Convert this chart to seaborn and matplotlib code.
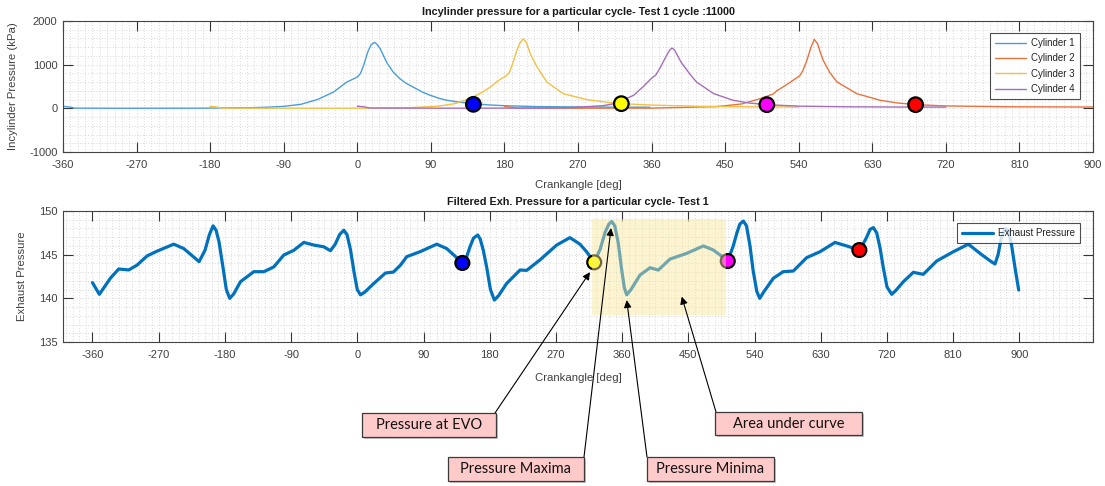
import matplotlib
matplotlib.use("Agg")
import matplotlib.pyplot as plt
from matplotlib.patches import Rectangle
from matplotlib.ticker import MultipleLocator
import seaborn as sns

# ---- in-cylinder pressure traces (crank angle [deg], pressure [kPa]) ----
cyl1_deg = [-360, -352, -345, -300, -200, -130, -110, -90, -69, -49, -29, -13, -4, 0, 4, 8, 13, 17, 21,
            24, 28, 36, 44, 52, 60, 69, 80, 89, 100, 110, 125, 142, 160, 180, 220, 280, 358]
cyl1_kpa = [46, 30, 5, 2, 3, 15, 25, 45, 92, 200, 373, 600, 680, 717, 800, 1000, 1300, 1460, 1510,
            1470, 1367, 1050, 830, 680, 570, 480, 370, 300, 230, 183, 140, 105, 80, 60, 40, 30, 25]

cyl2_deg = [180, 188, 195, 260, 360, 440, 470, 493, 509, 513, 520, 530, 536, 541, 545, 550, 555, 559,
            563, 567, 570, 578, 587, 611, 640, 660, 683, 720, 800, 900]
cyl2_kpa = [40, 25, 5, 3, 5, 40, 100, 222, 330, 400, 480, 602, 680, 740, 860, 1099, 1400, 1580,
            1480, 1250, 1099, 820, 602, 336, 183, 125, 84, 55, 35, 30]

cyl3_deg = [-180, -172, -165, -100, 0, 60, 100, 120, 133, 143, 153, 163, 170, 176, 182, 186, 190, 195,
            199, 203, 207, 212, 220, 232, 252, 281, 313, 323, 360, 420, 480, 540]
cyl3_kpa = [46, 30, 5, 3, 3, 10, 50, 110, 190, 270, 370, 490, 600, 680, 740, 820, 1020, 1320,
            1500, 1595, 1500, 1230, 946, 600, 336, 199, 122, 107, 75, 45, 35, 30]

cyl4_deg = [0, 8, 15, 100, 200, 260, 300, 313, 325, 338, 350, 360, 365, 371, 378, 382, 385, 388, 392,
            396, 399, 407, 415, 436, 460, 480, 501, 540, 600, 660, 720]
cyl4_kpa = [50, 35, 8, 3, 5, 15, 60, 100, 190, 298, 500, 690, 760, 946, 1200, 1330, 1381, 1340, 1200,
            1060, 985, 780, 602, 336, 183, 120, 84, 50, 35, 30, 28]

cyl_labels = ["Cylinder 1", "Cylinder 2", "Cylinder 3", "Cylinder 4"]

# exhaust valve opening events on the cylinder traces
evo_deg = [142, 323, 501, 683]
evo_kpa = [92, 107, 84, 84]
evo_colors = ["#0000ff", "#ffff00", "#ff00ff", "#ff0000"]

# ---- filtered exhaust pressure ----
exh_deg = [-360, -350.6, -335.6, -324.3, -310.7, -299.4, -285.8, -272.2, -249.5, -235.9, -215, -207, -201,
           -196, -192, -188, -183, -178, -173.4, -168, -158.8, -140.7, -127, -113.5, -99.9, -86.3, -72.7,
           -59.1, -45.5, -36.5, -30, -24, -18.4, -14, -9.3, -4, 0, 4.3, 10, 22.4, 38.3, 49, 58.7, 67.2,
           85.3, 108, 121.5, 132, 142.8, 148, 153.2, 158, 163.7, 167, 171.3, 176, 181, 186.3, 192, 203,
           221.2, 230.2, 248.3, 271, 289, 302.7, 312, 322, 330, 337, 342, 345.8, 350, 354.8, 359, 363,
           366.2, 372, 384.3, 397.9, 409.2, 425.1, 447.8, 470.4, 484, 494, 503.5, 511, 516, 520, 524.7,
           529, 533.8, 538, 543, 547, 553, 565.5, 579, 592.7, 610.8, 629, 649.3, 665.2, 682.4, 688,
           692.4, 697, 701.4, 706, 710.5, 715, 720, 726.4, 732, 742.2, 755.8, 769.3, 787.5, 810.2,
           830.6, 846.4, 860, 866.8, 871, 875, 880.4, 885, 889.5, 894, 899]
exh_val = [141.8, 140.46, 142.3, 143.36, 143.25, 143.8, 144.85, 145.4, 146.2, 145.7, 144.2, 145.5, 147.3,
           148.3, 147.8, 146.5, 143.8, 141.0, 140.0, 140.5, 141.9, 143.05, 143.05, 143.6, 144.96, 145.5, 146.4,
           146.1, 145.9, 145.45, 146.2, 147.3, 147.8, 147.3, 145.6, 142.8, 141.0, 140.4, 140.7, 141.7, 142.9,
           143.0, 143.8, 144.77, 145.34, 146.2, 145.7, 144.9, 144.05, 144.6, 145.9, 146.9, 147.25, 146.8,
           145.5, 143.5, 141.0, 139.8, 140.3, 141.7, 143.24, 143.2, 144.4, 146.1, 146.95, 146.2, 145.3,
           144.12, 145.6, 147.6, 148.5, 148.8, 148.3, 146.3, 143.5, 141.2, 140.4, 141.0, 142.67, 143.5,
           143.24, 144.5, 145.15, 146.0, 145.53, 144.9, 144.27, 146.0, 147.5, 148.5, 148.85, 148.3, 146.0,
           143.2, 140.8, 140.0, 140.8, 142.3, 143.05, 143.13, 144.66, 145.34, 146.4, 146.0, 145.53, 146.3,
           147.0, 147.9, 148.1, 147.5, 145.8, 143.5, 141.3, 140.46, 140.9, 141.9, 142.98, 142.75, 144.27,
           145.34, 146.2, 145.15, 144.3, 143.93, 145.0, 146.8, 148.0, 147.8, 146.0, 143.5, 140.95]

exh_mark_deg = [142.8, 322, 503.5, 682.4]
exh_mark_val = [144.05, 144.12, 144.27, 145.53]

# highlighted exhaust stroke window
area_deg = [319, 501]
area_val = [138.1, 149.1]

annotations = ["Pressure at EVO", "Pressure Maxima", "Pressure Minima", "Area under curve"]
annot_target_deg = [316.3, 344.9, 366.2, 441]
annot_target_val = [143.0, 148.05, 139.8, 140.2]

# ---------------------------------------------------------------------------
sns.set_theme(style="white")
plt.rcParams["font.family"] = ["Liberation Sans", "DejaVu Sans"]
plt.rcParams["axes.unicode_minus"] = False
plt.rcParams["lines.solid_joinstyle"] = "round"

W, H = 1105, 486
fig = plt.figure(figsize=(W / 100, H / 100), dpi=100)
fig.patch.set_facecolor("white")


def fx(px):
    return px / W


def fy(py):
    return (H - py) / H


ax1 = fig.add_axes([fx(63), fy(152), (1093 - 63) / W, 131 / H])
ax2 = fig.add_axes([fx(63), fy(342), (1093 - 63) / W, 131 / H])

cyl_colors = ["#4a9dd8", "#e8723e", "#f4bf45", "#a66db9"]
traces = [(cyl1_deg, cyl1_kpa), (cyl2_deg, cyl2_kpa), (cyl3_deg, cyl3_kpa), (cyl4_deg, cyl4_kpa)]
for (d, p), c, lab in zip(traces, cyl_colors, cyl_labels):
    sns.lineplot(x=d, y=p, ax=ax1, color=c, linewidth=1.0, label=lab, sort=False)

sns.scatterplot(x=evo_deg, y=evo_kpa, hue=[str(i) for i in range(4)],
                palette=evo_colors, ax=ax1, s=110, edgecolor="black", linewidth=1.6,
                legend=False, zorder=5)

sns.lineplot(x=exh_deg, y=exh_val, ax=ax2, color="#0072BD", linewidth=2.3,
             label="Exhaust Pressure", sort=False)
sns.scatterplot(x=exh_mark_deg, y=exh_mark_val, hue=[str(i) for i in range(4)],
                palette=evo_colors, ax=ax2, s=100, edgecolor="black", linewidth=1.6,
                legend=False, zorder=5)

ax2.add_patch(Rectangle((area_deg[0], area_val[0]), area_deg[1] - area_deg[0],
                        area_val[1] - area_val[0], facecolor=(0.98, 0.9, 0.6),
                        alpha=0.45, edgecolor="none", zorder=6))

# axes styling
ax1.set_xlim(-360, 900)
ax1.set_ylim(-1000, 2000)
ax1.set_xticks(range(-360, 901, 90))
ax1.set_yticks([-1000, 0, 1000, 2000])
ax1.xaxis.set_minor_locator(MultipleLocator(9))
ax1.yaxis.set_minor_locator(MultipleLocator(200))

ax2.set_xlim(-400, 1000)
ax2.set_ylim(135, 150)
ax2.set_xticks(range(-360, 901, 90))
ax2.set_yticks([135, 140, 145, 150])
ax2.xaxis.set_minor_locator(MultipleLocator(9))
ax2.yaxis.set_minor_locator(MultipleLocator(1))

for ax in (ax1, ax2):
    ax.set_axisbelow(True)
    ax.grid(True, which="both", color="#c4c4c4", linewidth=0.55, linestyle=(0, (1, 2.6)))
    ax.tick_params(which="major", direction="in", length=7, width=0.8, top=True, right=True,
                   bottom=True, left=True, colors="#333333", labelsize=8, labelcolor="#404040")
    ax.tick_params(axis="x", which="major", pad=6)
    ax.tick_params(axis="y", which="major", pad=4)
    ax.tick_params(which="minor", length=0)
    for s in ax.spines.values():
        s.set_color("#444444")
        s.set_linewidth(0.8)
        s.set_visible(True)

ax1.set_title("Incylinder pressure for a particular cycle- Test 1 cycle :11000",
              fontsize=7.8, fontweight="bold", color="#1a1a1a", pad=4)
ax2.set_title("Filtered Exh. Pressure for a particular cycle- Test 1",
              fontsize=7.8, fontweight="bold", color="#1a1a1a", pad=4)
ax1.set_xlabel("Crankangle [deg]", fontsize=8.2, color="#404040")
ax2.set_xlabel("Crankangle [deg]", fontsize=8.2, color="#404040")
ax1.set_ylabel("Incylinder Pressure (kPa)", fontsize=8.2, color="#404040")
ax2.set_ylabel("Exhaust Pressure", fontsize=8.2, color="#404040")
ax1.xaxis.set_label_coords(0.5, -0.21)
ax2.xaxis.set_label_coords(0.5, -0.237)
ax1.yaxis.set_label_coords(-0.0437, 0.5)
ax2.yaxis.set_label_coords(-0.035, 0.5)

leg_spacing = [0.55, 0.3]
for ax, sp in zip((ax1, ax2), leg_spacing):
    leg = ax.legend(loc="upper right", bbox_to_anchor=(0.987, 0.908), borderaxespad=0,
                    fontsize=7, frameon=True, fancybox=False, handlelength=3.2,
                    handletextpad=0.5, borderpad=0.5, labelspacing=sp)
    leg.get_frame().set_edgecolor("#222222")
    leg.get_frame().set_linewidth(0.8)
    leg.set_zorder(10)
    for t in leg.get_texts():
        t.set_color("#222222")

# callout boxes with arrows
boxes = [(362, 413, 496, 437), (448, 457, 584, 481), (647, 457, 774, 481), (715, 412, 862, 435)]
arrow_start = [(495, 413), (584, 457), (647, 457), (716, 412)]
for lab, (x0, y0, x1, y1), (sx, sy), tdeg, tval in zip(annotations, boxes, arrow_start,
                                                       annot_target_deg, annot_target_val):
    ax2.annotate("", xy=(tdeg, tval), xycoords="data", xytext=(sx, H - sy),
                 textcoords="figure pixels", annotation_clip=False,
                 arrowprops=dict(arrowstyle="-|>", color="black", lw=0.8,
                                 mutation_scale=11, shrinkA=0, shrinkB=0), zorder=8)
    fig.add_artist(Rectangle((fx(x0 + 2), fy(y1 + 2)), (x1 - x0) / W, (y1 - y0) / H,
                             transform=fig.transFigure, facecolor="#9a9a9a", alpha=0.55,
                             edgecolor="none", zorder=9))
    fig.add_artist(Rectangle((fx(x0), fy(y1)), (x1 - x0) / W, (y1 - y0) / H,
                             transform=fig.transFigure, facecolor="#ffcaca",
                             edgecolor="#3a3a3a", linewidth=0.9, zorder=10))
    fig.text(fx((x0 + x1) / 2), fy((y0 + y1) / 2), lab, ha="center", va="center",
             fontsize=10.5, family=["Lato", "DejaVu Sans"], color="#111111", zorder=11)

fig.savefig("out.png", dpi=100, facecolor="white")
